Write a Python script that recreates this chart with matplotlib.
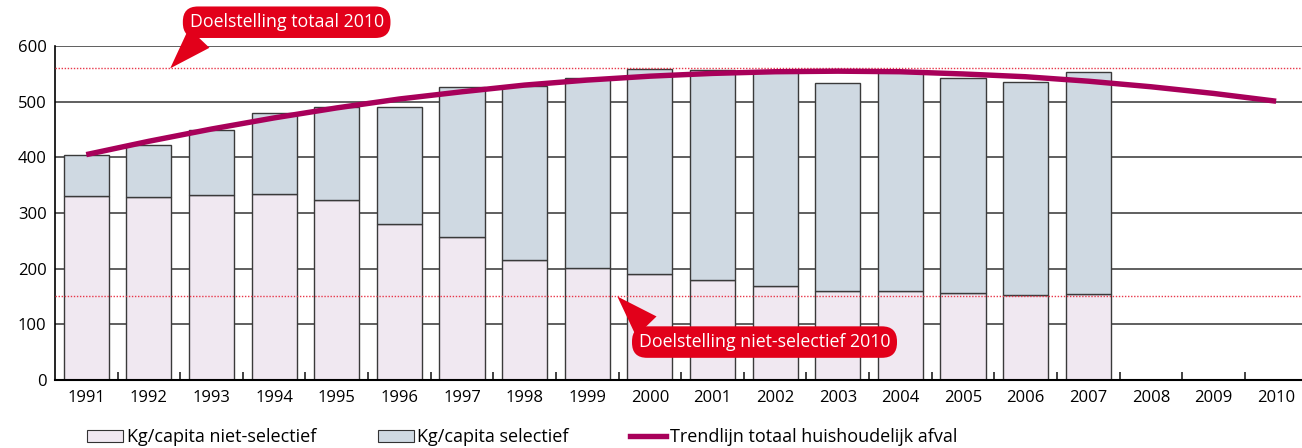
import numpy as np
import matplotlib
matplotlib.use("Agg")
import matplotlib.pyplot as plt
from matplotlib.patches import Patch
from matplotlib.lines import Line2D

plt.rcParams["font.family"] = ["Open Sans", "DejaVu Sans"]

# data (kg per capita)
years = list(range(1991, 2011))
bar_years = list(range(1991, 2008))
niet_selectief = [331, 329, 333, 334, 324, 280, 257, 216, 201, 191, 180, 169, 160, 159, 156, 153, 155]
totaal = [405, 423, 449, 479, 490, 491, 526, 529, 543, 559, 558, 556, 534, 554, 543, 536, 554]
selectief = [t - n for t, n in zip(totaal, niet_selectief)]
trendlijn = [405, 429, 451, 471, 489, 505, 518, 530, 539, 546,
             551, 554, 555, 554, 550, 545, 537, 527, 515, 501]
doel_totaal = 560
doel_niet_selectief = 150

RED = "#E2001A"
TREND = "#A8005A"
C_NIET = "#F0E8F1"
C_SEL = "#CFD9E2"

fig = plt.figure(figsize=(13.02, 4.48), dpi=100)
ax = fig.add_axes([0.0422, 0.152, 0.962, 0.745])

ax.bar(bar_years, niet_selectief, width=0.72, color=C_NIET, edgecolor="#3a3a3a", linewidth=1.0, zorder=2)
ax.bar(bar_years, selectief, bottom=niet_selectief, width=0.72, color=C_SEL, edgecolor="#3a3a3a",
       linewidth=1.0, zorder=2)

ax.axhline(doel_totaal, color="#E8374A", linestyle=(0, (1, 1.2)), linewidth=1.0, zorder=3)
ax.axhline(doel_niet_selectief, color="#E8374A", linestyle=(0, (1, 1.2)), linewidth=1.0, zorder=3)

ax.plot(years, trendlijn, color=TREND, linewidth=3.9, solid_capstyle="butt", zorder=4)

ax.set_xlim(1990.5, 2010.5)
ax.set_ylim(0, 600)
ax.set_yticks(range(0, 601, 100))
ax.yaxis.grid(True, color="#444444", linewidth=1.2, zorder=0)
ax.set_axisbelow(True)
ax.set_xticks(years)
ax.set_xticks([y + 0.5 for y in years[:-1]], minor=True)
ax.tick_params(axis="x", which="major", length=0, labelsize=12, pad=7)
ax.tick_params(axis="x", which="minor", direction="in", length=6, width=1.2, color="#222222")
ax.tick_params(axis="y", length=0, labelsize=12, pad=6)
for s in ["top", "right"]:
    ax.spines[s].set_visible(False)
ax.spines["left"].set_linewidth(1.2)
ax.spines["bottom"].set_linewidth(1.5)

# callouts
ax.annotate("Doelstelling totaal 2010", xy=(1992.34, doel_totaal), xytext=(1994.2, 643),
            ha="center", va="center", color="white", fontsize=12.8, annotation_clip=False,
            bbox=dict(boxstyle="round,pad=0.38,rounding_size=0.85", fc=RED, ec="none"),
            arrowprops=dict(arrowstyle="wedge,tail_width=1.6,shrink_factor=0.5", fc=RED, ec="none",
                            relpos=(0.1, 0.2), shrinkA=0, shrinkB=0), zorder=6)
ax.annotate("Doelstelling niet-selectief 2010", xy=(1999.48, doel_niet_selectief), xytext=(2001.83, 68),
            ha="center", va="center", color="white", fontsize=12.8, annotation_clip=False,
            bbox=dict(boxstyle="round,pad=0.38,rounding_size=0.85", fc=RED, ec="none"),
            arrowprops=dict(arrowstyle="wedge,tail_width=1.6,shrink_factor=0.5", fc=RED, ec="none",
                            relpos=(0.07, 0.8), shrinkA=0, shrinkB=0), zorder=6)

handles = [Patch(facecolor=C_NIET, edgecolor="#333333", linewidth=0.8),
           Patch(facecolor=C_SEL, edgecolor="#333333", linewidth=0.8),
           Line2D([0], [0], color=TREND, linewidth=3.9)]
labels = ["Kg/capita niet-selectief", "Kg/capita selectief", "Trendlijn totaal huishoudelijk afval"]
fig.legend(handles, labels, loc="center left", bbox_to_anchor=(0.067, 0.024), ncol=3, frameon=False,
           fontsize=13, handlelength=2.0, handleheight=0.7, handletextpad=0.2, columnspacing=3.4,
           borderaxespad=0, borderpad=0)

fig.savefig("out.png", dpi=100)
